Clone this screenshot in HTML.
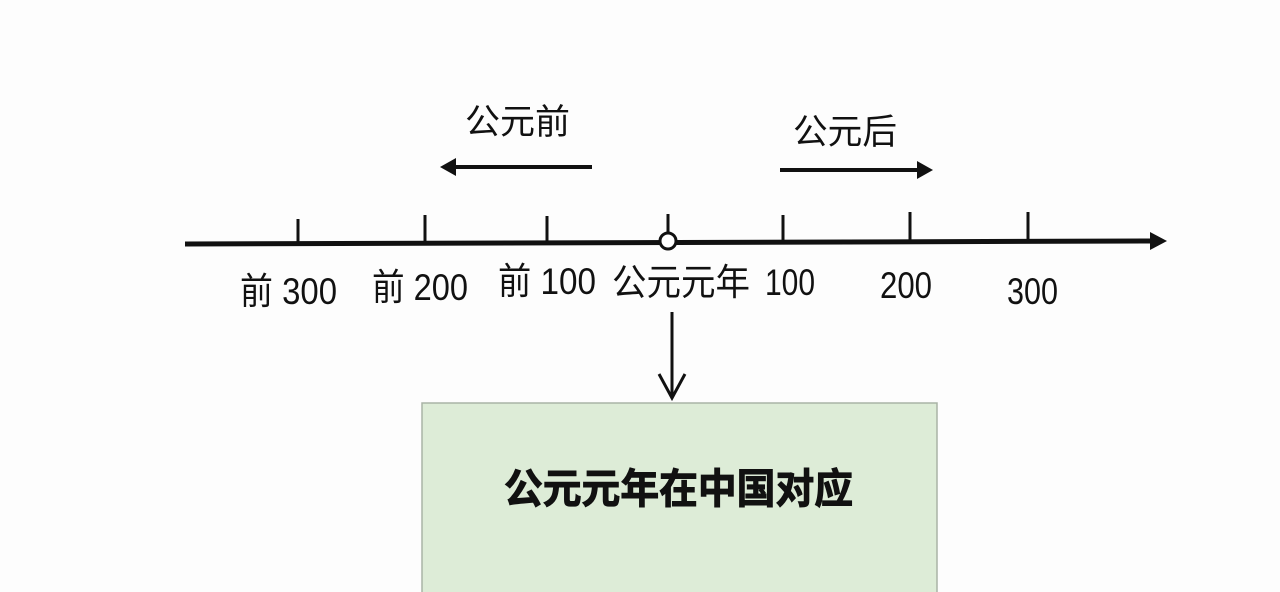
<!DOCTYPE html>
<html><head><meta charset="utf-8"><style>
html,body{margin:0;padding:0;background:#fdfdfd;}
svg{display:block;}
text{font-family:"Liberation Sans","Noto Sans CJK SC",sans-serif;fill:#111;}
</style></head><body>
<svg width="1280" height="592" viewBox="0 0 1280 592" xmlns="http://www.w3.org/2000/svg">
<rect width="1280" height="592" fill="#fdfdfd"/>
<text x="465" y="134" font-size="35" textLength="105" lengthAdjust="spacingAndGlyphs">公元前</text>
<line x1="452" y1="167" x2="592" y2="167" stroke="#111" stroke-width="4"/>
<polygon points="440,167 456,158 456,176" fill="#111"/>
<text x="793" y="144" font-size="35" textLength="104" lengthAdjust="spacingAndGlyphs">公元后</text>
<line x1="780" y1="170" x2="920" y2="170" stroke="#111" stroke-width="4"/>
<polygon points="933,170 917,161 917,179" fill="#111"/>
<line x1="185" y1="244" x2="1155" y2="241" stroke="#111" stroke-width="5"/>
<polygon points="1167,241 1150,232 1150,250" fill="#111"/>
<g stroke="#111" stroke-width="3">
<line x1="298" y1="219" x2="298" y2="244"/>
<line x1="425" y1="215" x2="425" y2="244"/>
<line x1="547" y1="216" x2="547" y2="243"/>
<line x1="668" y1="214" x2="668" y2="234"/>
<line x1="783" y1="215" x2="783" y2="242"/>
<line x1="910" y1="212" x2="910" y2="241"/>
<line x1="1028" y1="212" x2="1028" y2="241"/>
</g>
<circle cx="668" cy="241" r="8" fill="#fff" stroke="#111" stroke-width="3"/>
<g font-size="37">
<text x="240" y="304" textLength="97" lengthAdjust="spacingAndGlyphs">前 300</text>
<text x="372" y="300" textLength="96" lengthAdjust="spacingAndGlyphs">前 200</text>
<text x="498" y="294" textLength="98" lengthAdjust="spacingAndGlyphs">前 100</text>
<text x="612" y="295" textLength="138" lengthAdjust="spacingAndGlyphs">公元元年</text>
<text x="765" y="295" textLength="50" lengthAdjust="spacingAndGlyphs">100</text>
<text x="880" y="298" textLength="52" lengthAdjust="spacingAndGlyphs">200</text>
<text x="1007" y="304" textLength="51" lengthAdjust="spacingAndGlyphs">300</text>
</g>
<line x1="672" y1="312" x2="672" y2="398" stroke="#111" stroke-width="3"/>
<polyline points="659,374 672,398 685,374" fill="none" stroke="#111" stroke-width="3"/>
<rect x="422" y="403" width="515" height="200" fill="#ddecd7" stroke="#aab3a6" stroke-width="1.5"/>
<text x="504" y="503" font-size="41" font-weight="bold" stroke="#111" stroke-width="1" textLength="349" lengthAdjust="spacingAndGlyphs">公元元年在中国对应</text>
</svg>
</body></html>
